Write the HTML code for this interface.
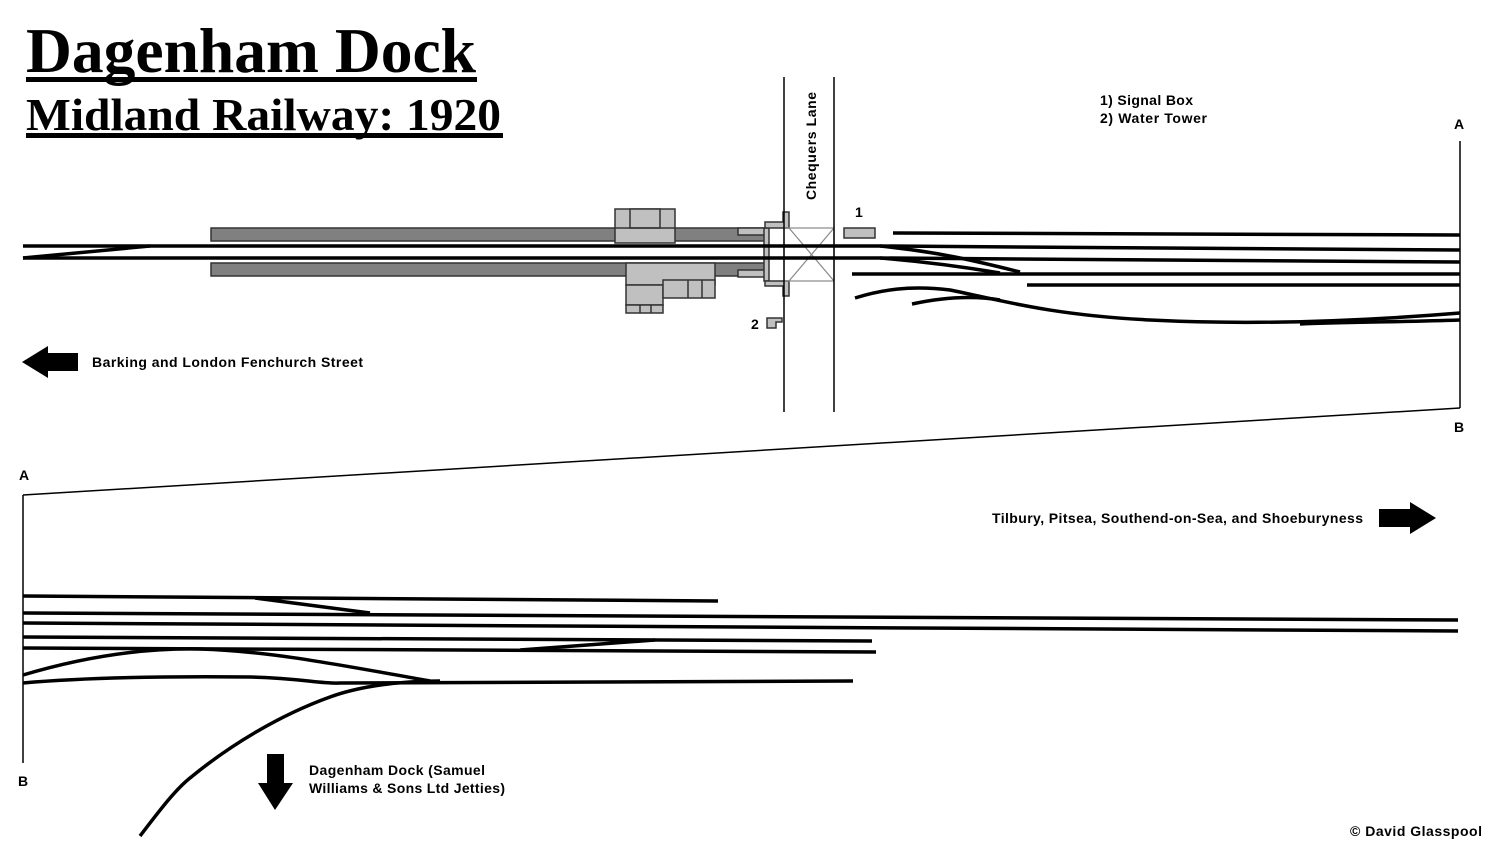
<!DOCTYPE html>
<html><head><meta charset="utf-8"><style>
html,body{margin:0;padding:0;background:#fff;}
svg{display:block;}
text{font-family:"Liberation Sans",sans-serif;font-weight:bold;font-size:14px;fill:#000;}
</style></head><body>
<svg width="1500" height="855" viewBox="0 0 1500 855" xmlns="http://www.w3.org/2000/svg">
<rect width="1500" height="855" fill="#fff"/>
<text x="26" y="72" textLength="450" lengthAdjust="spacingAndGlyphs" style="font-family:'Liberation Serif',serif;font-size:63px;font-weight:bold">Dagenham Dock</text>
<rect x="26" y="77" width="451" height="5" fill="#000"/>
<text x="26" y="130" textLength="475" lengthAdjust="spacingAndGlyphs" style="font-family:'Liberation Serif',serif;font-size:46px;font-weight:bold">Midland Railway: 1920</text>
<rect x="26" y="133" width="477" height="5" fill="#000"/>

<g stroke="#333" stroke-width="1.5">
<rect x="211" y="228" width="554" height="13" fill="#808080"/>
<rect x="211" y="263" width="554" height="13" fill="#808080"/>
<rect x="615" y="209" width="60" height="34" fill="#c0c0c0"/>
<rect x="630" y="209" width="30" height="19" fill="#c0c0c0"/>
<line x1="615" y1="228" x2="675" y2="228"/>
<rect x="738" y="228" width="27" height="7" fill="#c0c0c0"/>
<rect x="738" y="270" width="27" height="7" fill="#c0c0c0"/>
<rect x="626" y="263" width="89" height="22" fill="#c0c0c0"/>
<rect x="626" y="285" width="37" height="20" fill="#c0c0c0"/>
<rect x="663" y="280" width="52" height="18" fill="#c0c0c0"/>
<line x1="688" y1="280" x2="688" y2="298"/><line x1="702" y1="280" x2="702" y2="298"/>
<rect x="626" y="305" width="37" height="8" fill="#c0c0c0"/>
<line x1="640" y1="305" x2="640" y2="313"/><line x1="651" y1="305" x2="651" y2="313"/>
<rect x="764" y="228" width="5" height="53" fill="#c0c0c0"/>
<path d="M765 228 H789 V212 H783 V222 H765 Z" fill="#c0c0c0"/>
<path d="M765 281 H789 V296 H783 V286 H765 Z" fill="#c0c0c0"/>
<rect x="844" y="228" width="31" height="10" fill="#c0c0c0"/>
<path d="M767 318 H782 V322 H776 V328 H767 Z" fill="#c0c0c0"/>
</g>
<g stroke="#888" stroke-width="1.2" fill="none">
<rect x="784" y="228" width="50" height="53"/>
<line x1="789" y1="228" x2="834" y2="281"/><line x1="834" y1="228" x2="789" y2="281"/>
</g>
<g stroke="#000" stroke-width="1.5">
<line x1="784" y1="77" x2="784" y2="412"/>
<line x1="834" y1="77" x2="834" y2="412"/>
<line x1="1460" y1="141" x2="1460" y2="408"/>
<line x1="23" y1="495" x2="1460" y2="408"/>
<line x1="23" y1="495" x2="23" y2="763"/>
</g>
<g stroke="#000" stroke-width="3.5" fill="none">
<path d="M23 246 H880 L1460 250"/>
<path d="M23 258 H880 L1460 262"/>
<path d="M23 258 L150 246"/>
<path d="M893 233 L1460 235"/>
<path d="M880 246 C940 252 980 262 1020 272"/>
<path d="M880 258 C930 262 970 268 1000 273"/>
<path d="M852 274 H1460"/>
<path d="M1027 285 H1460"/>
<path d="M855 298 C880 290 910 285 950 290 C1000 300 1050 315 1150 320 C1250 325 1350 322 1460 313"/>
<path d="M912 304 C940 298 970 295 1000 300"/>
<path d="M1300 324 C1350 322 1400 322 1460 320"/>
</g>
<g stroke="#000" stroke-width="3.5" fill="none">
<path d="M23 596 L718 601"/>
<path d="M255 598 L370 613"/>
<path d="M23 613 L1458 620"/>
<path d="M23 623 L1458 631"/>
<path d="M23 637 L872 641"/>
<path d="M23 648 L876 652"/>
<path d="M520 650 L655 640"/>
<path d="M23 675 C90 655 150 648 200 649 C270 651 340 665 430 681"/>
<path d="M23 683 C80 678 150 676 250 677 C300 678 320 684 340 683 L853 681"/>
<path d="M140 836 C160 810 175 790 190 778 C230 745 280 715 330 697 C360 686 400 681 440 681"/>
</g>
<path d="M22 362 L48 346 V353 H78 V371 H48 V378 Z" fill="#000"/>
<path d="M1436 518 L1410 502 V509 H1379 V527 H1410 V534 Z" fill="#000"/>
<path d="M275 810 L258 783 H267 V754 H284 V783 H293 Z" fill="#000"/>
<text x="92" y="367" textLength="271">Barking and London Fenchurch Street</text>
<text x="992" y="523" textLength="371">Tilbury, Pitsea, Southend-on-Sea, and Shoeburyness</text>
<text x="309" y="775" textLength="176">Dagenham Dock (Samuel</text>
<text x="309" y="793" textLength="196">Williams &amp; Sons Ltd Jetties)</text>
<text x="1100" y="105" textLength="93">1) Signal Box</text>
<text x="1100" y="123" textLength="107">2) Water Tower</text>
<text x="816" y="200" textLength="108" transform="rotate(-90 816 200)">Chequers Lane</text>
<text x="855" y="217">1</text>
<text x="751" y="329">2</text>
<text x="1454" y="129">A</text>
<text x="1454" y="432">B</text>
<text x="19" y="480">A</text>
<text x="18" y="786">B</text>
<text x="1350" y="836" textLength="132">© David Glasspool</text>
</svg>
</body></html>
